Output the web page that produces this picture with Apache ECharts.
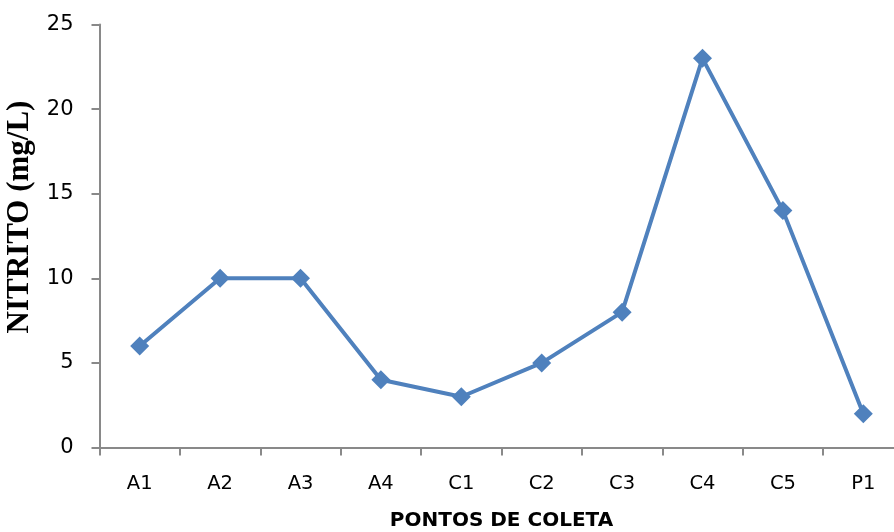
<!DOCTYPE html>
<html><head><meta charset="utf-8">
<script src="https://cdn.jsdelivr.net/npm/echarts@6/dist/echarts.min.js"></script>
<style>html,body{margin:0;padding:0;background:#fff}#c{width:894px;height:532px}</style>
</head><body><div id="c"></div>
<script>
const categories = ['A1','A2','A3','A4','C1','C2','C3','C4','C5','P1'];
const nitrito = [6,10,10,4,3,5,8,23,14,2];
const yTicks = [0,5,10,15,20,25];

const chart = echarts.init(document.getElementById('c'));
chart.setOption({
  animation: false,
  grid: {left: 99.5, top: 24.5, width: 804, height: 423, outerBoundsMode: 'none', containLabel: false},
  xAxis: {
    type: 'category', data: categories, boundaryGap: true,
    axisLine: {lineStyle: {color: '#898989', width: 2}},
    axisTick: {show: true, length: 8, lineStyle: {color: '#898989', width: 2}},
    axisLabel: {color: '#000', fontSize: 19.5, fontFamily: 'DejaVu Sans, sans-serif', margin: 26},
    name: 'PONTOS DE COLETA', nameLocation: 'middle', nameGap: 63,
    nameTextStyle: {color: '#000', fontSize: 20, fontWeight: 'bold', fontFamily: 'DejaVu Sans, sans-serif'}
  },
  yAxis: {
    type: 'value', min: yTicks[0], max: yTicks[yTicks.length-1], interval: 5,
    axisLine: {show: true, lineStyle: {color: '#898989', width: 2}},
    axisTick: {show: true, length: 8, lineStyle: {color: '#898989', width: 2}},
    splitLine: {show: false},
    axisLabel: {color: '#000', fontSize: 21, fontFamily: 'DejaVu Sans, sans-serif', margin: 26},
    name: 'NITRITO (mg/L)', nameLocation: 'middle', nameGap: 63, nameRotate: 90,
    nameTextStyle: {color: '#000', fontSize: 31, fontWeight: 'bold', fontFamily: 'Liberation Serif, serif', padding: [0, 0, 0, 38]}
  },
  series: [{
    type: 'line', data: nitrito,
    symbol: 'diamond', symbolSize: 19,
    lineStyle: {color: '#4F81BD', width: 4},
    itemStyle: {color: '#4F81BD'}
  }]
});
</script></body></html>
